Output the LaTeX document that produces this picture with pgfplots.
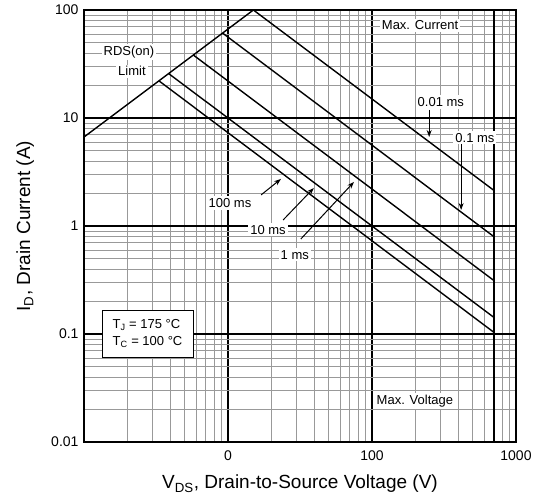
\documentclass[border=0pt]{standalone}
\usepackage{fontspec}
\setmainfont{Liberation Sans}
\usepackage{pgfplots}
\pgfplotsset{compat=1.18}
\usetikzlibrary{arrows.meta}
\begin{document}
\begin{tikzpicture}
\useasboundingbox (-84pt,-60pt) rectangle (452pt,442pt);
\begin{axis}[
  at={(0,0)}, anchor=south west,
  scale only axis, width=432pt, height=432pt,
  xmode=log, ymode=log,
  xmin=1, xmax=1000, ymin=0.01, ymax=100,
  xtick={10,100,1000}, xticklabels={0,100,1000},
  ytick={0.01,0.1,1,10,100}, yticklabels={0.01,0.1,1,10,100},
  minor xtick={2,3,4,5,6,7,8,9,20,30,40,50,60,70,80,90,200,300,400,500,600,700,800,900},
  minor ytick={0.02,0.03,0.04,0.05,0.06,0.07,0.08,0.09,0.2,0.3,0.4,0.5,0.6,0.7,0.8,0.9,2,3,4,5,6,7,8,9,20,30,40,50,60,70,80,90},
  grid=both,
  major grid style={black, line width=1.5pt},
  minor grid style={black!40, line width=0.7pt},
  axis line style={line width=1.8pt},
  major tick length=0pt, minor tick length=0pt,
  tick label style={font=\fontsize{14}{14}\selectfont},
  xticklabel style={yshift=-5pt},
  yticklabel style={xshift=-2pt},
  xlabel={V\textsubscript{DS}, Drain-to-Source Voltage (V)},
  ylabel={I\textsubscript{D}, Drain Current (A)},
  label style={font=\fontsize{19}{19}\selectfont},
  xlabel style={at={(axis description cs:0.5,-0.097)}, anchor=center},
  ylabel style={at={(axis description cs:-0.136,0.5)}, anchor=center},
]
\pgfplotsset{soa/.style={black, solid, line width=1.4pt, mark=none}}
% RDS(on) limit
\addplot[soa] coordinates {(1,6.667) (15,100)};
% 0.01 ms
\addplot[soa] coordinates {(15,100) (700,2.143)};
% 0.1 ms
\addplot[soa] coordinates {(9.17,61.1) (700,0.80)};
% 1 ms
\addplot[soa] coordinates {(5.74,38.3) (700,0.314)};
% 10 ms
\addplot[soa] coordinates {(3.87,25.8) (700,0.143)};
% 100 ms
\addplot[soa] coordinates {(3.31,22.1) (700,0.104)};
% Max voltage
\addplot[soa, line width=1.8pt] coordinates {(700,0.01) (700,100)};

\tikzset{lab/.style={fill=white, inner sep=2pt, font=\fontsize{13}{13}\selectfont}}
\node[lab] at (rel axis cs:0.104,0.903) {RDS(on)};
\node[lab] at (rel axis cs:0.111,0.858) {Limit};
\node[lab] at (rel axis cs:0.778,0.965) {Max. Current};
\node[lab] at (rel axis cs:0.766,0.095) {Max. Voltage};
\node[lab] at (rel axis cs:0.826,0.787) {0.01 ms};
\node[lab] at (rel axis cs:0.905,0.704) {0.1 ms};
\node[lab] at (rel axis cs:0.338,0.553) {100 ms};
\node[lab] at (rel axis cs:0.426,0.491) {10 ms};
\node[lab] at (rel axis cs:0.488,0.433) {1 ms};
\tikzset{arr/.style={-{Stealth[length=7pt,width=5pt]}, line width=1pt, black}}
\draw[arr] (rel axis cs:0.799,0.769) -- (rel axis cs:0.799,0.706);
\draw[arr] (rel axis cs:0.873,0.690) -- (rel axis cs:0.873,0.537);
\draw[arr] (rel axis cs:0.410,0.572) -- (rel axis cs:0.456,0.609);
\draw[arr] (rel axis cs:0.461,0.514) -- (rel axis cs:0.532,0.588);
\draw[arr] (rel axis cs:0.502,0.470) -- (rel axis cs:0.625,0.602);
\node[draw, fill=white, line width=0.9pt, minimum width=91pt, minimum height=47pt,
      align=left, font=\fontsize{13}{17}\selectfont]
  at (rel axis cs:0.147,0.251) {T\textsubscript{J} = 175 °C\\T\textsubscript{C} = 100 °C};
\end{axis}
\end{tikzpicture}
\end{document}
